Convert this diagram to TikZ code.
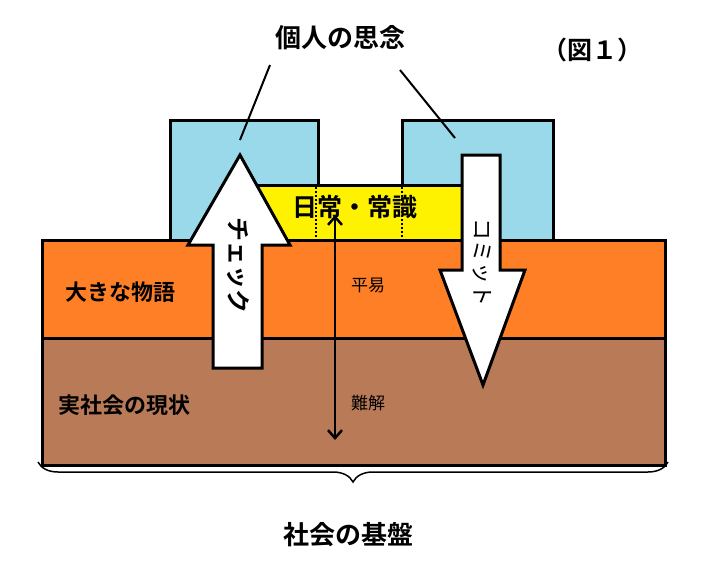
\documentclass[tikz,border=0pt]{standalone}
\usepackage{fontspec}
\newfontfamily\jp{Noto Sans CJK JP}[BoldFont={Noto Sans CJK JP Bold}]
\usetikzlibrary{decorations.pathreplacing,arrows.meta}
\definecolor{lb}{HTML}{99D9EA}
\definecolor{org}{HTML}{FF7F27}
\definecolor{brn}{HTML}{B97A57}
\begin{document}
\begin{tikzpicture}[x=1pt,y=-1pt,line width=3pt,
  fs/.style={font=\jp\bfseries\fontsize{#1}{#1}\selectfont},
  sm/.style={font=\jp\fontsize{17}{17}\selectfont},
  box/.style={draw=black,line width=3pt}]
\useasboundingbox (0,0) rectangle (702,566);
\fill[white] (0,0) rectangle (702,566);
\draw[box,fill=lb] (170,120) rectangle (318,240);
\draw[box,fill=lb] (402,120) rectangle (553,240);
\draw[box,fill=yellow] (250,185) rectangle (470,240);
\draw[line width=2pt,dotted] (316,187) -- (316,240);
\draw[line width=2pt,dotted] (402,187) -- (402,240);
\draw[box,fill=org] (42,240) rectangle (665,338);
\draw[box,fill=brn] (42,338) rectangle (665,465);
\draw[box,fill=white,line join=miter] (213,368) -- (213,245) -- (188,245) -- (240,155) -- (290,245) -- (262,245) -- (262,368) -- cycle;
\draw[box,fill=white,line join=miter] (462,155) -- (500,155) -- (500,270) -- (525,270) -- (483,385) -- (440,270) -- (462,270) -- cycle;
\coordinate (a1) at (335,215); \coordinate (a2) at (335,440);
\draw[line width=2.5pt,{Straight Barb[length=8pt,width=14pt]}-{Straight Barb[length=8pt,width=14pt]}] (a1) -- (a2);
\node[fs=26] (t1) at (340,38) {個人の思念};
\node[fs=25] (fig) at (592,50) {（図１）};
\coordinate (l1a) at (270,65); \coordinate (l1b) at (240,140);
\coordinate (l2a) at (400,70); \coordinate (l2b) at (455,138);
\draw[line width=2pt] (l1a) -- (l1b);
\draw[line width=2pt] (l2a) -- (l2b);
\node[fs=25] (nj) at (355,207) {日常・常識};
\node[fs=24,rotate=-90] (ck) at (238,265) {チェック};
\node[rotate=-90,font=\jp\fontsize{22}{22}\selectfont] (cm) at (482,262) {コミット};
\node[fs=22] (mono) at (120,292) {大きな物語};
\node[sm] (hei) at (368,285) {平易};
\node[fs=22] (gen) at (124,405) {実社会の現状};
\node[sm] (nan) at (368,403) {難解};
\draw[line width=1.5pt,decorate,decoration={brace,mirror,amplitude=20pt}] (38,462) -- (668,462);
\node[fs=26] (kiban) at (348,535) {社会の基盤};
\end{tikzpicture}
\end{document}
